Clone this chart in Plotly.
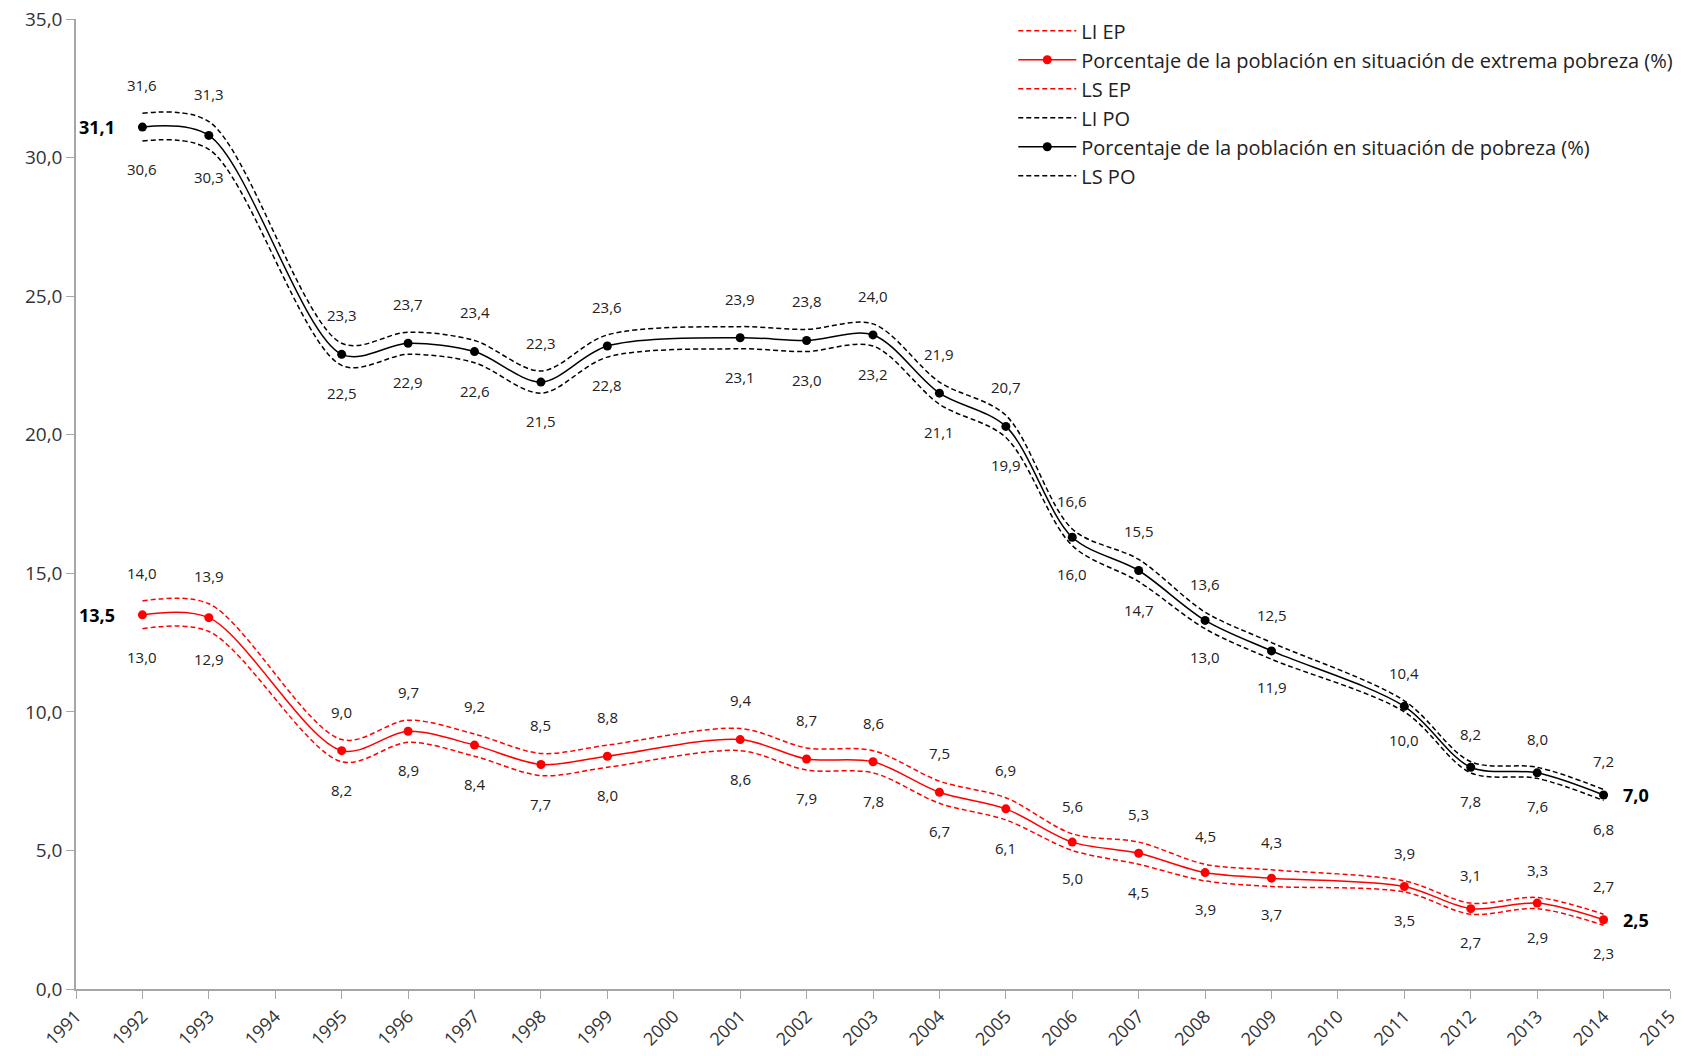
import plotly.graph_objects as go

years = [1992, 1993, 1995, 1996, 1997, 1998, 1999, 2001, 2002, 2003, 2004, 2005, 2006, 2007, 2008, 2009, 2011, 2012, 2013, 2014]
po = [31.1, 30.8, 22.9, 23.3, 23.0, 21.9, 23.2, 23.5, 23.4, 23.6, 21.5, 20.3, 16.3, 15.1, 13.3, 12.2, 10.2, 8.0, 7.8, 7.0]
li_po = [30.6, 30.3, 22.5, 22.9, 22.6, 21.5, 22.8, 23.1, 23.0, 23.2, 21.1, 19.9, 16.0, 14.7, 13.0, 11.9, 10.0, 7.8, 7.6, 6.8]
ls_po = [31.6, 31.3, 23.3, 23.7, 23.4, 22.3, 23.6, 23.9, 23.8, 24.0, 21.9, 20.7, 16.6, 15.5, 13.6, 12.5, 10.4, 8.2, 8.0, 7.2]
ep = [13.5, 13.4, 8.6, 9.3, 8.8, 8.1, 8.4, 9.0, 8.3, 8.2, 7.1, 6.5, 5.3, 4.9, 4.2, 4.0, 3.7, 2.9, 3.1, 2.5]
li_ep = [13.0, 12.9, 8.2, 8.9, 8.4, 7.7, 8.0, 8.6, 7.9, 7.8, 6.7, 6.1, 5.0, 4.5, 3.9, 3.7, 3.5, 2.7, 2.9, 2.3]
ls_ep = [14.0, 13.9, 9.0, 9.7, 9.2, 8.5, 8.8, 9.4, 8.7, 8.6, 7.5, 6.9, 5.6, 5.3, 4.5, 4.3, 3.9, 3.1, 3.3, 2.7]

name_ep = "Porcentaje de la población en situación de extrema pobreza (%)"
name_po = "Porcentaje de la población en situación de pobreza (%)"

FONT = "Open Sans"
RED = "#ff0000"
BLACK = "#000000"
DASH = "5px,3px"

fig = go.Figure()

def dashed(y, name, color):
    fig.add_trace(go.Scatter(x=years, y=y, name=name, mode="lines",
                             line=dict(color=color, width=1.5, dash=DASH, shape="spline", smoothing=0.9)))

def main(y, name, color):
    fig.add_trace(go.Scatter(x=years, y=y, name=name, mode="lines+markers",
                             line=dict(color=color, width=1.5, shape="spline", smoothing=0.9),
                             marker=dict(color=color, size=9)))

dashed(li_ep, "LI EP", RED)
main(ep, name_ep, RED)
dashed(ls_ep, "LS EP", RED)
dashed(li_po, "LI PO", BLACK)
main(po, name_po, BLACK)
dashed(ls_po, "LS PO", BLACK)

def fmt(v):
    return f"{v:.1f}".replace(".", ",")

ann = []
lab_font = dict(family=FONT, size=15, color="#222222")
for series_up, series_dn in ((ls_po, li_po), (ls_ep, li_ep)):
    for x, u, d in zip(years, series_up, series_dn):
        ann.append(dict(x=x, y=u, text=fmt(u), showarrow=False, yshift=28, font=lab_font))
        ann.append(dict(x=x, y=d, text=fmt(d), showarrow=False, yshift=-28, font=lab_font))

bold_font = dict(family=FONT, size=18, color="#000000")
for series in (po, ep):
    ann.append(dict(x=years[0], y=series[0], text="<b>" + fmt(series[0]) + "</b>", showarrow=False,
                    xanchor="right", xshift=-25, font=bold_font))
    ann.append(dict(x=years[-1], y=series[-1], text="<b>" + fmt(series[-1]) + "</b>", showarrow=False,
                    xanchor="left", xshift=17, font=bold_font))

fig.update_layout(
    width=1689, height=1056,
    margin=dict(l=76, r=11, t=16, b=67),
    paper_bgcolor="white", plot_bgcolor="white",
    separators=",.",
    font=dict(family=FONT, color="#333333"),
    annotations=ann,
    showlegend=True,
    legend=dict(x=0.588, y=1.008, xanchor="left", yanchor="top", traceorder="normal",
                font=dict(family=FONT, size=20, color="#222222"),
                bgcolor="rgba(0,0,0,0)", itemwidth=58, tracegroupgap=0),
)
fig.update_xaxes(range=[1991, 2015], dtick=1, tick0=1991, tickangle=-45, showgrid=False, automargin=False,
                 showline=True, linecolor="#a6a6a6", linewidth=1.5, ticks="outside", ticklen=8,
                 tickcolor="#a6a6a6", tickfont=dict(family=FONT, size=18, color="#333333"), zeroline=False)
fig.update_yaxes(range=[0, 35], dtick=5, tickformat=".1f", showgrid=False, automargin=False,
                 showline=True, linecolor="#a6a6a6", linewidth=1.5, ticks="outside", ticklen=8,
                 tickcolor="#a6a6a6", tickfont=dict(family=FONT, size=19, color="#333333"), zeroline=False)

fig.write_html("out.html", config={"displayModeBar": False},
               post_script="document.body.style.margin='0';document.body.style.overflow='hidden';")
